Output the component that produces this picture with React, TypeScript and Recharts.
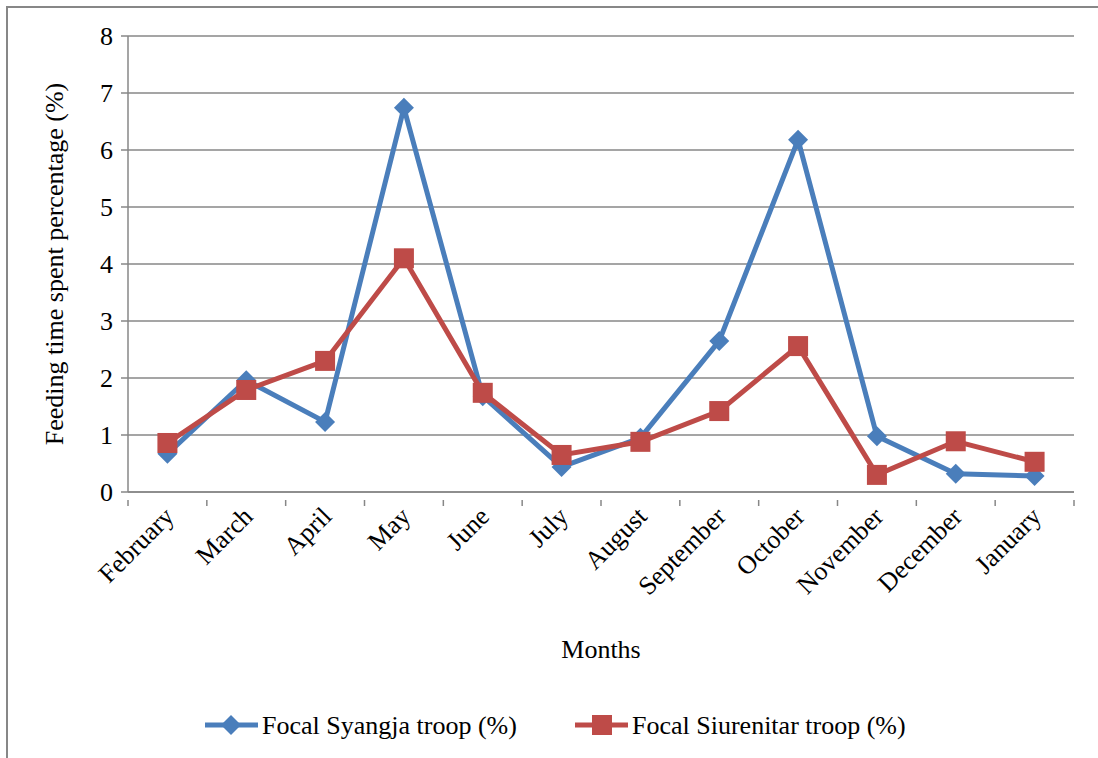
import { LineChart, Line, XAxis, YAxis, CartesianGrid, Legend } from "recharts";

const months = [
  "February",
  "March",
  "April",
  "May",
  "June",
  "July",
  "August",
  "September",
  "October",
  "November",
  "December",
  "January",
];
const syangja = [0.67, 1.96, 1.23, 6.74, 1.68, 0.44, 0.95, 2.65, 6.18, 0.98, 0.32, 0.28];
const siurenitar = [0.86, 1.79, 2.3, 4.1, 1.74, 0.65, 0.88, 1.42, 2.56, 0.3, 0.89, 0.53];
const yTicks = [0, 1, 2, 3, 4, 5, 6, 7, 8];

const data = months.map((m, i) => ({
  month: m,
  syangja: syangja[i],
  siurenitar: siurenitar[i],
}));

const BLUE = "#4A7EBB";
const RED = "#BE4B48";
const GRAY = "#878787";
const FONT = "Liberation Serif";
const FS = 26;
const PLOT_W = 1074 - 128;
const HALF = PLOT_W / 24;

const Diamond = (props: any) => {
  const { cx, cy, index } = props;
  if (cx == null || cy == null) return <g key={`bd-${index}`} />;
  return (
    <path
      key={`bd-${index}`}
      d={`M${cx},${cy - 10} L${cx + 10},${cy} L${cx},${cy + 10} L${cx - 10},${cy} Z`}
      fill={BLUE}
    />
  );
};

const Square = (props: any) => {
  const { cx, cy, index } = props;
  if (cx == null || cy == null) return <g key={`rs-${index}`} />;
  return <rect key={`rs-${index}`} x={cx - 10} y={cy - 10} width={20} height={20} fill={RED} />;
};

// category label plus Excel-style tick marks on the band edges
const MonthTick = (props: any) => {
  const { x, y, payload, index } = props;
  const last = index === months.length - 1;
  return (
    <g>
      <line x1={x - HALF} y1={y} x2={x - HALF} y2={y + 6} stroke={GRAY} strokeWidth={1.5} />
      {last && (
        <line x1={x + HALF} y1={y} x2={x + HALF} y2={y + 6} stroke={GRAY} strokeWidth={1.5} />
      )}
      <g transform={`translate(${x + 8},${y + 18})`}>
        <text
          textAnchor="end"
          transform="rotate(-45)"
          fontFamily={FONT}
          fontSize={FS}
          fill="#000"
        >
          {payload.value}
        </text>
      </g>
    </g>
  );
};

const LegendBox = () => (
  <svg width={1098} height={60} style={{ display: "block" }}>
    <line x1={205} y1={30} x2={258} y2={30} stroke={BLUE} strokeWidth={5} />
    <path d="M231,20 L241,30 L231,40 L221,30 Z" fill={BLUE} />
    <text x={262} y={39} fontFamily={FONT} fontSize={FS} fill="#000">
      Focal Syangja troop (%)
    </text>
    <line x1={575} y1={30} x2={628} y2={30} stroke={RED} strokeWidth={5} />
    <rect x={592} y={20} width={20} height={20} fill={RED} />
    <text x={632} y={39} fontFamily={FONT} fontSize={FS} fill="#000">
      Focal Siurenitar troop (%)
    </text>
  </svg>
);

export default function App() {
  return (
    <div
      style={{
        position: "absolute",
        left: 0,
        top: 0,
        width: 1098,
        height: 758,
        background: "#fff",
        overflow: "hidden",
        fontFamily: FONT,
      }}
    >
      <div
        style={{
          position: "absolute",
          left: 6,
          top: 6,
          width: 1098,
          height: 758,
          borderLeft: `2px solid ${GRAY}`,
          borderTop: `2px solid ${GRAY}`,
        }}
      />
      <div style={{ position: "absolute", left: 0, top: 0 }}>
        <LineChart
          width={1098}
          height={758}
          data={data}
          margin={{ top: 36, right: 24, bottom: 16, left: 0 }}
        >
          <CartesianGrid
            horizontal={true}
            vertical={false}
            stroke={GRAY}
            strokeWidth={1.5}
          />
          <XAxis
            dataKey="month"
            type="category"
            padding={{ left: HALF, right: HALF }}
            interval={0}
            tick={<MonthTick />}
            tickLine={false}
            axisLine={{ stroke: GRAY, strokeWidth: 1.5 }}
            height={190}
            label={{
              value: "Months",
              position: "insideBottom",
              offset: 24,
              fontFamily: FONT,
              fontSize: FS,
              fill: "#000",
            }}
          />
          <YAxis
            type="number"
            domain={[0, 8]}
            ticks={yTicks}
            interval={0}
            width={128}
            tickSize={7}
            tickMargin={8}
            tickLine={{ stroke: GRAY, strokeWidth: 1.5 }}
            axisLine={{ stroke: GRAY, strokeWidth: 1.5 }}
            tick={{ fontFamily: FONT, fontSize: FS, fill: "#000" }}
            label={{
              value: "Feeding time spent percentage (%)",
              angle: -90,
              position: "insideLeft",
              offset: 54,
              style: { textAnchor: "middle" },
              fontFamily: FONT,
              fontSize: FS,
              fill: "#000",
            }}
          />
          <Line
            type="linear"
            dataKey="syangja"
            name="Focal Syangja troop (%)"
            stroke={BLUE}
            strokeWidth={5}
            dot={Diamond}
            activeDot={false}
            isAnimationActive={false}
          />
          <Line
            type="linear"
            dataKey="siurenitar"
            name="Focal Siurenitar troop (%)"
            stroke={RED}
            strokeWidth={5}
            dot={Square}
            activeDot={false}
            isAnimationActive={false}
          />
          <Legend
            content={<LegendBox />}
            wrapperStyle={{ position: "absolute", left: 0, top: 695, width: 1098 }}
          />
        </LineChart>
      </div>
    </div>
  );
}
